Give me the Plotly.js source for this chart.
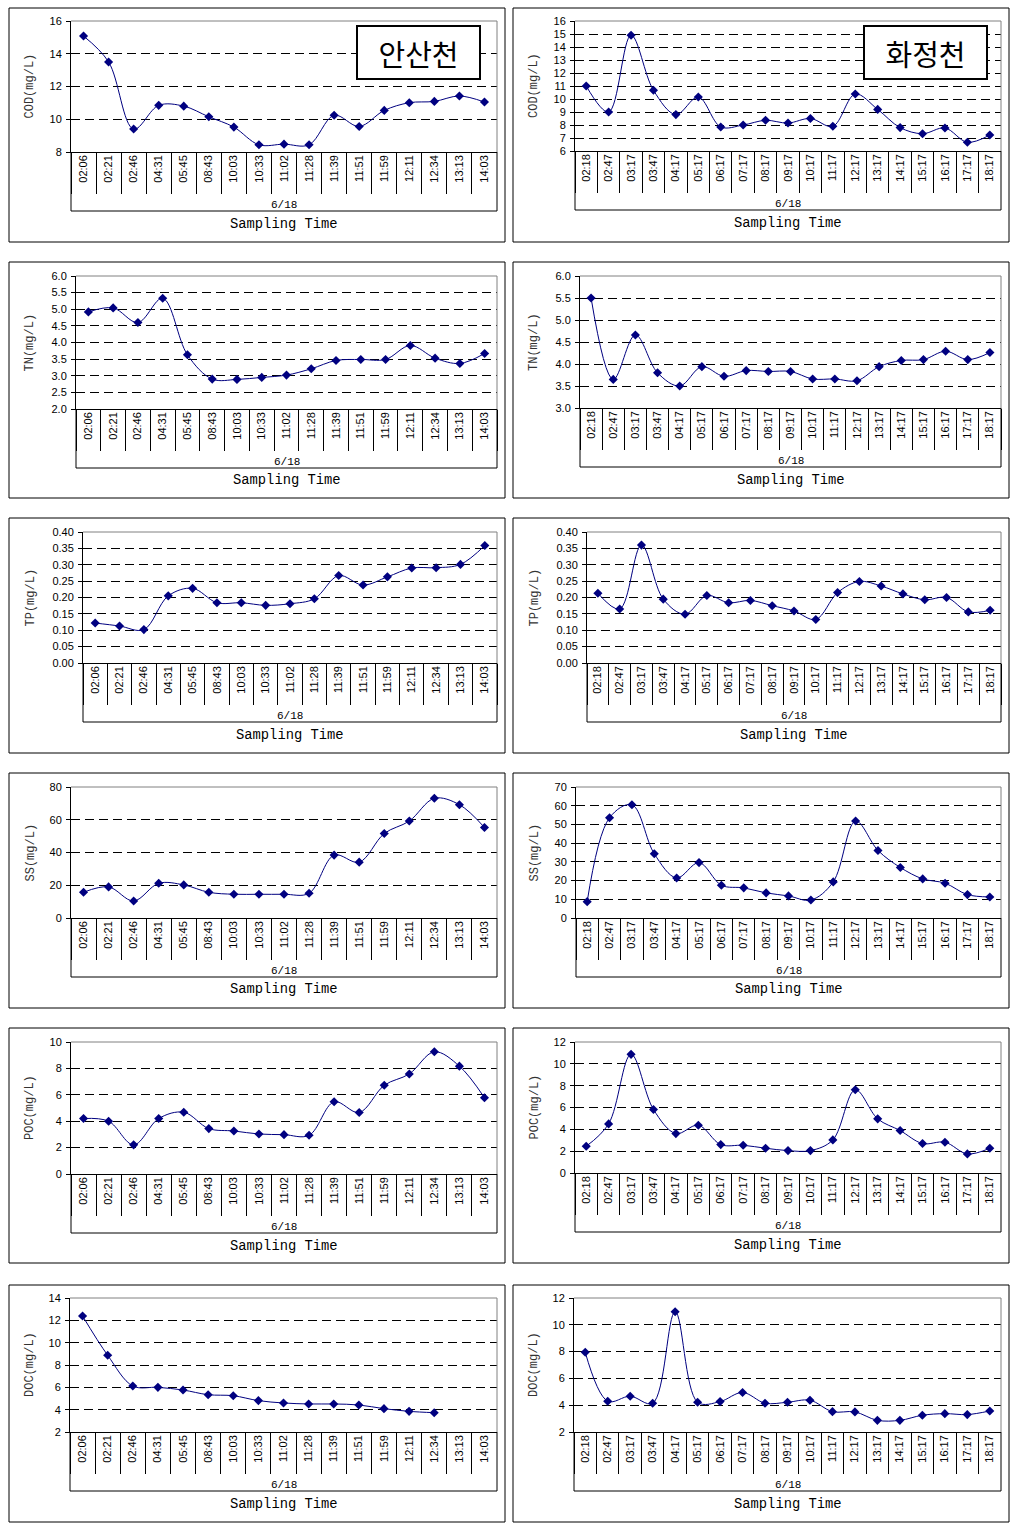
<!DOCTYPE html>
<html>
<head>
<meta charset="utf-8">
<script src="https://cdn.plot.ly/plotly-3.0.1.min.js"></script>
<style>
html,body{margin:0;padding:0;background:#fff;}
#chart{width:1020px;height:1524px;}
</style>
</head>
<body>
<div id="chart"></div>
<script>
const W = 1020, H = 1524;

// ---- categories ----
const timesAnsan = ["02:06","02:21","02:46","04:31","05:45","08:43","10:03","10:33","11:02","11:28","11:39","11:51","11:59","12:11","12:34","13:13","14:03"];
const timesHwajeong = ["02:18","02:47","03:17","03:47","04:17","05:17","06:17","07:17","08:17","09:17","10:17","11:17","12:17","13:17","14:17","15:17","16:17","17:17","18:17"];
const dateLabel = "6/18";
const xTitle = "Sampling Time";
const siteAnsan = "안산천";
const siteHwajeong = "화정천";

// ---- series values ----
const codAnsan = [15.08,13.5,9.4,10.85,10.8,10.15,9.52,8.44,8.48,8.44,10.24,9.56,10.54,11.01,11.09,11.42,11.05];
const codHwajeong = [11.0,9.0,14.9,10.67,8.8,10.15,7.85,8.0,8.36,8.15,8.5,7.9,10.38,9.2,7.8,7.33,7.77,6.67,7.23];
const tnAnsan = [4.92,5.04,4.6,5.33,3.63,2.9,2.89,2.95,3.02,3.21,3.46,3.49,3.49,3.91,3.53,3.37,3.67];
const tnHwajeong = [5.5,3.65,4.66,3.8,3.5,3.94,3.72,3.85,3.83,3.83,3.66,3.66,3.62,3.94,4.08,4.1,4.29,4.1,4.26];
const tpAnsan = [0.122,0.113,0.102,0.205,0.228,0.184,0.184,0.176,0.181,0.196,0.267,0.238,0.263,0.29,0.291,0.301,0.359];
const tpHwajeong = [0.213,0.165,0.36,0.195,0.149,0.206,0.184,0.191,0.175,0.159,0.133,0.215,0.249,0.235,0.211,0.193,0.2,0.156,0.161];
const ssAnsan = [15.7,19.0,10.4,21.2,20.2,15.7,14.5,14.5,14.5,15.1,38.4,34.1,51.6,59.2,73.1,69.2,55.3];
const ssHwajeong = [8.75,53.6,60.5,34.3,21.4,29.6,17.5,16.1,13.4,11.8,9.6,19.3,51.8,36.1,27.0,20.9,18.6,12.5,11.25];
const pocAnsan = [4.2,4.0,2.21,4.2,4.68,3.44,3.26,3.03,2.98,2.93,5.47,4.66,6.72,7.58,9.26,8.17,5.78];
const pocHwajeong = [2.45,4.5,10.87,5.82,3.61,4.38,2.6,2.54,2.27,2.05,2.05,3.03,7.62,4.96,3.89,2.7,2.82,1.75,2.27];
const docAnsan = [12.39,8.87,6.12,6.0,5.76,5.34,5.25,4.81,4.6,4.51,4.51,4.42,4.09,3.85,3.73,null,null];
const docHwajeong = [7.95,4.3,4.67,4.15,10.97,4.22,4.27,4.95,4.15,4.22,4.37,3.52,3.5,2.87,2.87,3.25,3.37,3.3,3.57];

// ---- panel layout (pixel geometry) ----
const colBox = [[9,505],[513,1009]];
const rowBox = [[8,242],[262,498],[518,753],[773,1008],[1028,1263],[1285,1522]];

const panels = [
  {x:timesAnsan, y:codAnsan, yt:"COD(mg/L)", range:[8,16], dtick:2, fmt:"d", plot:[71,21,497,152], col:0, row:0, site:siteAnsan},
  {x:timesHwajeong, y:codHwajeong, yt:"COD(mg/L)", range:[6,16], dtick:1, fmt:"d", plot:[575,21,1001,151], col:1, row:0, site:siteHwajeong},
  {x:timesAnsan, y:tnAnsan, yt:"TN(mg/L)", range:[2,6], dtick:0.5, fmt:".1f", plot:[76,276,497,409], col:0, row:1},
  {x:timesHwajeong, y:tnHwajeong, yt:"TN(mg/L)", range:[3,6], dtick:0.5, fmt:".1f", plot:[580,276,1001,408], col:1, row:1},
  {x:timesAnsan, y:tpAnsan, yt:"TP(mg/L)", range:[0,0.4], dtick:0.05, fmt:".2f", plot:[83,532,497,663], col:0, row:2},
  {x:timesHwajeong, y:tpHwajeong, yt:"TP(mg/L)", range:[0,0.4], dtick:0.05, fmt:".2f", plot:[587,532,1001,663], col:1, row:2},
  {x:timesAnsan, y:ssAnsan, yt:"SS(mg/L)", range:[0,80], dtick:20, fmt:"d", plot:[71,787,497,918], col:0, row:3},
  {x:timesHwajeong, y:ssHwajeong, yt:"SS(mg/L)", range:[0,70], dtick:10, fmt:"d", plot:[576,787,1001,918], col:1, row:3},
  {x:timesAnsan, y:pocAnsan, yt:"POC(mg/L)", range:[0,10], dtick:2, fmt:"d", plot:[71,1042,497,1174], col:0, row:4},
  {x:timesHwajeong, y:pocHwajeong, yt:"POC(mg/L)", range:[0,12], dtick:2, fmt:"d", plot:[575,1042,1001,1173], col:1, row:4},
  {x:timesAnsan, y:docAnsan, yt:"DOC(mg/L)", range:[2,14], dtick:2, fmt:"d", plot:[70,1298,497,1432], col:0, row:5},
  {x:timesHwajeong, y:docHwajeong, yt:"DOC(mg/L)", range:[2,12], dtick:2, fmt:"d", plot:[574,1298,1001,1432], col:1, row:5}
];

const px = v => v / W;
const py = v => 1 - v / H;
const LINE = "#000080";
const tickFont = {family:"Liberation Sans, Arial, sans-serif", size:11, color:"#000"};
const monoFont = {family:"Liberation Mono, DejaVu Sans Mono, monospace", size:12, color:"#333"};

const data = [];
const layout = {
  width: W, height: H,
  margin: {l:0, r:0, t:0, b:0},
  paper_bgcolor: "#fff", plot_bgcolor: "#fff",
  showlegend: false,
  shapes: [], annotations: []
};
const N = panels.length;

panels.forEach((p, i) => {
  const k = i + 1;
  const sfx = n => (n === 1 ? "" : String(n));
  const xa = "x" + sfx(k), ya = "y" + sfx(k);
  const xk = "xaxis" + sfx(k), yk = "yaxis" + sfx(k);
  const xl = "x" + (k + N), xlk = "xaxis" + (k + N);   // overlay axis carrying the labels
  const [L, T, R, B] = p.plot;
  const [bx0, bx1] = colBox[p.col];
  const [by0, by1] = rowBox[p.row];

  data.push({
    type: "scatter", mode: "lines+markers",
    x: p.x, y: p.y, xaxis: xa, yaxis: ya,
    line: {color: LINE, width: 1, shape: "spline", smoothing: 1},
    marker: {symbol: "diamond", size: 7, color: LINE},
    connectgaps: false, hoverinfo: "skip", cliponaxis: false
  });
  // same series on the label axis (no visible marks) so it knows the categories
  data.push({
    type: "scatter", mode: "none", x: p.x, y: p.y, xaxis: xl, yaxis: ya, hoverinfo: "skip"
  });

  const xrange = [-0.5, p.x.length - 0.5];
  layout[xk] = {
    domain: [px(L), px(R)], anchor: ya, type: "category",
    range: xrange,
    showgrid: false, zeroline: false,
    showline: true, linecolor: "#000", linewidth: 1,
    ticks: "outside", tickson: "boundaries", ticklen: 41, tickcolor: "#000", tickwidth: 1,
    showticklabels: false,
    fixedrange: true
  };
  layout[xlk] = {
    domain: [px(L), px(R)], anchor: ya, overlaying: xa, type: "category",
    range: xrange,
    showgrid: false, zeroline: false, showline: false,
    ticks: "", tickangle: -90, tickfont: tickFont,
    fixedrange: true
  };
  layout[yk] = {
    domain: [py(B), py(T)], anchor: xa,
    range: p.range, dtick: p.dtick, tick0: p.range[0], tickformat: p.fmt,
    showgrid: true, gridcolor: "#000", gridwidth: 1, griddash: "9px,5px",
    zeroline: false,
    showline: true, linecolor: "#000", linewidth: 1,
    ticks: "outside", ticklen: 4, tickcolor: "#000", tickwidth: 1,
    tickfont: tickFont, ticklabelstandoff: 2,
    fixedrange: true
  };

  const S = layout.shapes;
  S.push({type:"rect", xref:"paper", yref:"paper", x0:px(bx0), x1:px(bx1), y0:py(by1), y1:py(by0), line:{color:"#000", width:1}});
  S.push({type:"line", xref:"paper", yref:"paper", x0:px(L), x1:px(R), y0:py(T), y1:py(T), line:{color:"#808080", width:1}});
  S.push({type:"line", xref:"paper", yref:"paper", x0:px(R), x1:px(R), y0:py(T), y1:py(B), line:{color:"#808080", width:1}});
  S.push({type:"line", xref:"paper", yref:"paper", x0:px(L), x1:px(L), y0:py(B), y1:py(B+59), line:{color:"#000", width:1}});
  S.push({type:"line", xref:"paper", yref:"paper", x0:px(R), x1:px(R), y0:py(B), y1:py(B+59), line:{color:"#000", width:1}});
  S.push({type:"line", xref:"paper", yref:"paper", x0:px(L), x1:px(R), y0:py(B+59), y1:py(B+59), line:{color:"#000", width:1}});

  const A = layout.annotations;
  const cx = px((L + R) / 2);
  A.push({xref:"paper", yref:"paper", x:cx, y:py(B+53), text:dateLabel, showarrow:false, xanchor:"center", yanchor:"middle",
          font:{family:monoFont.family, size:11, color:"#000"}});
  A.push({xref:"paper", yref:"paper", x:cx, y:py(B+72), text:xTitle, showarrow:false, xanchor:"center", yanchor:"middle",
          font:{family:monoFont.family, size:13.8, color:"#000"}});
  A.push({xref:"paper", yref:"paper", x:px(bx0+21), y:py((T+B)/2), text:p.yt, textangle:-90, showarrow:false,
          xanchor:"center", yanchor:"middle", font:monoFont});
  if (p.site) {
    const sx = p.col === 0 ? 418.5 : 925;
    A.push({xref:"paper", yref:"paper", x:px(sx), y:py(53), text:p.site, showarrow:false, xanchor:"center", yanchor:"middle",
            font:{family:"Noto Sans CJK KR, sans-serif", size:29, color:"#000"},
            bgcolor:"#fff", bordercolor:"#000", borderwidth:2, borderpad:2, width:117, height:47});
  }
});

Plotly.newPlot("chart", data, layout, {displayModeBar:false, staticPlot:true, responsive:false});
</script>
</body>
</html>
